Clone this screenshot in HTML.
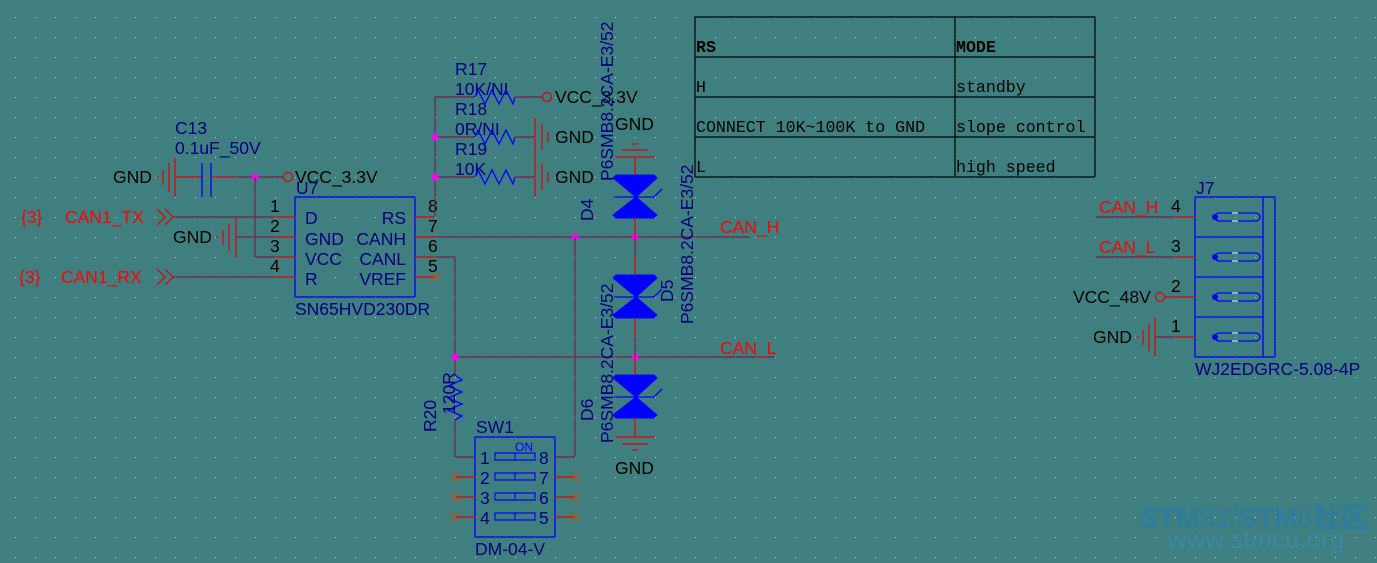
<!DOCTYPE html>
<html><head><meta charset="utf-8"><style>
html,body{margin:0;padding:0;background:#3f7f7f;}
svg{display:block}
text{font-family:"Liberation Sans",sans-serif;}
.mono{font-family:"Liberation Mono",monospace;font-size:16.6px;fill:#000}
.w{stroke:#7a1f4a;stroke-width:1.2;fill:none}
.p{stroke:#e00000;stroke-width:1.2;fill:none}
.b{stroke:#0000ff;stroke-width:1.3;fill:none}
.lbl{font-size:17.5px;fill:#000}
.dk{font-size:17.5px;fill:#000080}
.net{font-size:17.5px;fill:#ff0000}
.j{fill:#ff00ff}
.nc{stroke:#c05010;stroke-width:1.2}
</style></head><body>
<svg width="1377" height="563" viewBox="0 0 1377 563" xmlns="http://www.w3.org/2000/svg">
<defs>
<pattern id="g" x="15" y="17" width="20" height="20" patternUnits="userSpaceOnUse">
<rect x="0" y="0" width="1" height="1" fill="#b8d4d4"/>
</pattern>
</defs>
<rect width="1377" height="563" fill="#3f7f7f"/>
<rect width="1377" height="563" fill="url(#g)"/>

<!-- Table -->
<g stroke="#000" stroke-width="1.2" fill="none">
<rect x="695" y="17" width="400" height="160"/>
<line x1="695" y1="57" x2="1095" y2="57"/><line x1="695" y1="97" x2="1095" y2="97"/><line x1="695" y1="137" x2="1095" y2="137"/>
<line x1="955" y1="17" x2="955" y2="177"/>
</g>
<text class="mono" x="696" y="52" font-weight="bold">RS</text>
<text class="mono" x="956" y="52" font-weight="bold">MODE</text>
<text class="mono" x="696" y="92">H</text>
<text class="mono" x="956" y="92">standby</text>
<text class="mono" x="696" y="132">CONNECT 10K~100K to GND</text>
<text class="mono" x="956" y="132">slope control</text>
<text class="mono" x="696" y="172">L</text>
<text class="mono" x="956" y="172">high speed</text>

<!-- C13 -->
<text class="dk" x="175" y="134">C13</text>
<text class="dk" x="175" y="154">0.1uF_50V</text>
<text class="lbl" x="113" y="183">GND</text>
<line class="p" x1="157" y1="177" x2="159" y2="177"/>
<line class="p" x1="163" y1="170" x2="163" y2="185"/>
<line class="p" x1="169" y1="163" x2="169" y2="192"/>
<line class="p" x1="175" y1="157" x2="175" y2="197"/>
<line class="p" x1="175" y1="177" x2="202" y2="177"/>
<line class="b" x1="202" y1="163" x2="202" y2="197"/>
<line class="b" x1="211" y1="163" x2="211" y2="197"/>
<line class="p" x1="211" y1="177" x2="235" y2="177"/>
<line class="w" x1="235" y1="177" x2="283" y2="177"/>
<circle cx="288" cy="177" r="4.5" fill="none" stroke="#e00000" stroke-width="1.2"/>
<text class="lbl" x="295" y="183">VCC_3.3V</text>
<circle class="j" cx="255" cy="177" r="3.5"/>

<!-- U7 -->
<text class="dk" x="296" y="194">U7</text>
<rect x="295" y="197" width="120" height="100" fill="none" stroke="#0000ff" stroke-width="1.3"/>
<text class="dk" x="305" y="224">D</text>
<text class="dk" x="305" y="245">GND</text>
<text class="dk" x="305" y="265">VCC</text>
<text class="dk" x="305" y="285">R</text>
<text class="dk" x="406" y="224" text-anchor="end">RS</text>
<text class="dk" x="406" y="245" text-anchor="end">CANH</text>
<text class="dk" x="406" y="265" text-anchor="end">CANL</text>
<text class="dk" x="406" y="285" text-anchor="end">VREF</text>
<text class="dk" x="295" y="315">SN65HVD230DR</text>
<text class="lbl" x="270" y="212">1</text><text class="lbl" x="270" y="232">2</text><text class="lbl" x="270" y="252">3</text><text class="lbl" x="270" y="272">4</text>
<text class="lbl" x="428" y="212">8</text><text class="lbl" x="428" y="232">7</text><text class="lbl" x="428" y="252">6</text><text class="lbl" x="428" y="272">5</text>

<!-- left nets -->
<text class="net" x="21" y="223">{3}</text>
<text class="net" x="65" y="223">CAN1_TX</text>
<path class="p" d="M157 209 L165 217 L157 225 M165 209 L173 217 L165 225"/>
<line class="w" x1="173" y1="217" x2="275" y2="217"/><line class="p" x1="275" y1="217" x2="295" y2="217"/>
<text class="net" x="19" y="283">{3}</text>
<text class="net" x="61" y="283">CAN1_RX</text>
<path class="p" d="M157 269 L165 277 L157 285 M165 269 L173 277 L165 285"/>
<line class="w" x1="173" y1="277" x2="275" y2="277"/><line class="p" x1="275" y1="277" x2="295" y2="277"/>
<text class="lbl" x="173" y="243">GND</text>
<line class="p" x1="216" y1="237" x2="218" y2="237"/>
<line class="p" x1="223" y1="230" x2="223" y2="245"/>
<line class="p" x1="229" y1="224" x2="229" y2="251"/>
<line class="p" x1="236" y1="217" x2="236" y2="258"/>
<line class="w" x1="236" y1="237" x2="275" y2="237"/><line class="p" x1="275" y1="237" x2="295" y2="237"/>
<path class="w" d="M255 177 V257 H275"/><line class="p" x1="275" y1="257" x2="295" y2="257"/>

<!-- right pins -->
<line class="p" x1="415" y1="217" x2="435" y2="217"/>
<line class="p" x1="415" y1="237" x2="435" y2="237"/>
<line class="p" x1="415" y1="257" x2="435" y2="257"/>
<line class="p" x1="415" y1="277" x2="435" y2="277"/>
<path class="nc" d="M430 272 L440 282 M440 272 L430 282"/>
<path class="w" d="M435 217 V97 H475"/>
<line class="w" x1="435" y1="137" x2="475" y2="137"/>
<line class="w" x1="435" y1="177" x2="475" y2="177"/>
<circle class="j" cx="435" cy="137" r="3.5"/><circle class="j" cx="435" cy="177" r="3.5"/>

<!-- R17,R18,R19 -->
<text class="dk" x="455" y="75">R17</text><text class="dk" x="455" y="95">10K/NI</text>
<text class="dk" x="455" y="115">R18</text><text class="dk" x="455" y="135">0R/NI</text>
<text class="dk" x="455" y="155">R19</text><text class="dk" x="455" y="175">10K</text>
<path class="b" d="M475 97 L478 90 L485 104 L492 90 L499 104 L506 90 L513 104 L515 97"/>
<path class="b" d="M475 137 L478 130 L485 144 L492 130 L499 144 L506 130 L513 144 L515 137"/>
<path class="b" d="M475 177 L478 170 L485 184 L492 170 L499 184 L506 170 L513 184 L515 177"/>
<line class="w" x1="515" y1="97" x2="542" y2="97"/>
<circle cx="547" cy="97" r="4.5" fill="none" stroke="#e00000" stroke-width="1.2"/>
<text class="lbl" x="555" y="103">VCC_3.3V</text>
<line class="w" x1="515" y1="137" x2="535" y2="137"/>
<line class="p" x1="535" y1="117" x2="535" y2="157"/><line class="p" x1="542" y1="124" x2="542" y2="150"/><line class="p" x1="548" y1="132" x2="548" y2="142"/>
<text class="lbl" x="555" y="143">GND</text>
<line class="w" x1="515" y1="177" x2="535" y2="177"/>
<line class="p" x1="535" y1="157" x2="535" y2="197"/><line class="p" x1="542" y1="164" x2="542" y2="190"/><line class="p" x1="548" y1="172" x2="548" y2="182"/>
<text class="lbl" x="555" y="183">GND</text>

<!-- CANH / CANL wires -->
<line class="w" x1="435" y1="237" x2="750" y2="237"/>
<text class="net" x="720" y="233">CAN_H</text>
<path class="w" d="M435 257 H455 V375"/>
<line class="w" x1="455" y1="357" x2="775" y2="357"/>
<text class="net" x="720" y="354">CAN_L</text>
<circle class="j" cx="455" cy="357" r="3.5"/>
<circle class="j" cx="575" cy="237" r="3.5"/>
<circle class="j" cx="635" cy="237" r="3.5"/>
<circle class="j" cx="635" cy="357" r="3.5"/>
<path class="w" d="M575 237 V457 H555"/>

<!-- R20 -->
<path class="b" d="M455 375 L462 380 L448 386 L462 392 L448 398 L462 404 L448 410 L462 416 L455 420"/>
<path class="w" d="M455 420 V457 H475"/>
<text class="dk" transform="translate(436,432) rotate(-90)">R20</text>
<text class="dk" transform="translate(455,414) rotate(-90)">120R</text>

<!-- SW1 -->
<text class="dk" x="476" y="433">SW1</text>
<rect x="475" y="437" width="80" height="100" fill="none" stroke="#0000ff" stroke-width="1.3"/>
<text x="515" y="451" font-family="Liberation Serif,serif" font-size="12" fill="#0000ff">ON</text>
<g fill="none" stroke="#0000ff" stroke-width="1.2">
<rect x="495" y="453" width="40" height="7"/><line x1="515" y1="453" x2="515" y2="460"/>
<rect x="495" y="473" width="40" height="7"/><line x1="515" y1="473" x2="515" y2="480"/>
<rect x="495" y="493" width="40" height="7"/><line x1="515" y1="493" x2="515" y2="500"/>
<rect x="495" y="513" width="40" height="7"/><line x1="515" y1="513" x2="515" y2="520"/>
</g>
<text class="dk" x="480" y="464">1</text><text class="dk" x="480" y="484">2</text><text class="dk" x="480" y="504">3</text><text class="dk" x="480" y="524">4</text>
<text class="dk" x="539" y="464">8</text><text class="dk" x="539" y="484">7</text><text class="dk" x="539" y="504">6</text><text class="dk" x="539" y="524">5</text>
<text class="dk" x="475" y="555">DM-04-V</text>
<g class="p"><line x1="455" y1="477" x2="475" y2="477"/><line x1="455" y1="497" x2="475" y2="497"/><line x1="455" y1="517" x2="475" y2="517"/>
<line x1="555" y1="477" x2="575" y2="477"/><line x1="555" y1="497" x2="575" y2="497"/><line x1="555" y1="517" x2="575" y2="517"/></g>
<g class="nc"><path d="M450 472 L460 482 M460 472 L450 482 M450 492 L460 502 M460 492 L450 502 M450 512 L460 522 M460 512 L450 522"/>
<path d="M570 472 L580 482 M580 472 L570 482 M570 492 L580 502 M580 492 L570 502 M570 512 L580 522 M580 512 L570 522"/></g>

<!-- Diodes -->
<g fill="#0000ff" stroke="#0000ff" stroke-width="1" stroke-linejoin="round">
<path d="M616 175 H654 L657 178 L636 197 L613 178 Z M636 197 L657 215 L654 218 H616 L613 215 Z"/>
<path d="M616 275 H654 L657 278 L636 297 L613 278 Z M636 297 L657 315 L654 318 H616 L613 315 Z"/>
<path d="M616 375 H654 L657 378 L636 397 L613 378 Z M636 397 L657 415 L654 418 H616 L613 415 Z"/>
</g>
<g class="b"><path d="M614 197 H654 L662 189"/><path d="M614 297 H654 L662 289"/><path d="M614 397 H654 L662 389"/></g>
<g class="p">
<line x1="635" y1="157" x2="635" y2="175"/>
<line x1="615" y1="157" x2="655" y2="157"/><line x1="622" y1="150" x2="648" y2="150"/><line x1="632" y1="144" x2="638" y2="144"/>
<line x1="635" y1="218" x2="635" y2="237"/>
<line x1="635" y1="257" x2="635" y2="275"/>
<line x1="635" y1="318" x2="635" y2="337"/>
<line x1="635" y1="357" x2="635" y2="375"/>
<line x1="635" y1="418" x2="635" y2="437"/>
<line x1="615" y1="437" x2="655" y2="437"/><line x1="622" y1="444" x2="648" y2="444"/><line x1="632" y1="450" x2="638" y2="450"/>
</g>
<line class="w" x1="635" y1="237" x2="635" y2="257"/>
<line class="w" x1="635" y1="337" x2="635" y2="357"/>
<text class="lbl" x="615" y="130">GND</text>
<text class="lbl" x="615" y="474">GND</text>
<text class="dk" transform="translate(593,221) rotate(-90)">D4</text>
<text class="dk" transform="translate(613,181) rotate(-90)">P6SMB8.2CA-E3/52</text>
<text class="dk" transform="translate(673,302) rotate(-90)">D5</text>
<text class="dk" transform="translate(693,324) rotate(-90)">P6SMB8.2CA-E3/52</text>
<text class="dk" transform="translate(593,421) rotate(-90)">D6</text>
<text class="dk" transform="translate(613,443) rotate(-90)">P6SMB8.2CA-E3/52</text>

<!-- J7 -->
<text class="dk" x="1196" y="194">J7</text>
<rect x="1195" y="197" width="80" height="160" fill="none" stroke="#0000ff" stroke-width="1.3"/>
<g class="b"><line x1="1263" y1="197" x2="1263" y2="357"/>
<line x1="1195" y1="237" x2="1263" y2="237"/><line x1="1195" y1="277" x2="1263" y2="277"/><line x1="1195" y1="317" x2="1263" y2="317"/>
<rect x="1215" y="213" width="45" height="8" rx="4"/><rect x="1215" y="253" width="45" height="8" rx="4"/><rect x="1215" y="293" width="45" height="8" rx="4"/><rect x="1215" y="333" width="45" height="8" rx="4"/></g>
<g fill="#0000ff"><circle cx="1215" cy="217" r="3"/><circle cx="1215" cy="257" r="3"/><circle cx="1215" cy="297" r="3"/><circle cx="1215" cy="337" r="3"/></g>
<g stroke="#fff" stroke-width="1"><line x1="1232" y1="213" x2="1238" y2="213"/><line x1="1232" y1="221" x2="1238" y2="221"/><line x1="1232" y1="253" x2="1238" y2="253"/><line x1="1232" y1="261" x2="1238" y2="261"/><line x1="1232" y1="293" x2="1238" y2="293"/><line x1="1232" y1="301" x2="1238" y2="301"/><line x1="1232" y1="333" x2="1238" y2="333"/><line x1="1232" y1="341" x2="1238" y2="341"/></g>
<text class="dk" x="1195" y="375">WJ2EDGRC-5.08-4P</text>
<line class="w" x1="1095" y1="217" x2="1175" y2="217"/><line class="p" x1="1175" y1="217" x2="1195" y2="217"/>
<line class="w" x1="1095" y1="257" x2="1175" y2="257"/><line class="p" x1="1175" y1="257" x2="1195" y2="257"/>
<line class="p" x1="1165" y1="297" x2="1195" y2="297"/>
<line class="w" x1="1155" y1="337" x2="1175" y2="337"/><line class="p" x1="1175" y1="337" x2="1195" y2="337"/>
<text class="net" x="1099" y="213">CAN_H</text><text class="lbl" x="1171" y="212">4</text>
<text class="net" x="1099" y="253">CAN_L</text><text class="lbl" x="1171" y="252">3</text>
<circle cx="1160" cy="297" r="4.5" fill="none" stroke="#e00000" stroke-width="1.2"/>
<text class="lbl" x="1073" y="303">VCC_48V</text><text class="lbl" x="1171" y="292">2</text>
<text class="lbl" x="1093" y="343">GND</text><text class="lbl" x="1171" y="332">1</text>
<line class="p" x1="1137" y1="337" x2="1139" y2="337"/>
<line class="p" x1="1143" y1="330" x2="1143" y2="345"/><line class="p" x1="1149" y1="324" x2="1149" y2="351"/><line class="p" x1="1155" y1="317" x2="1155" y2="357"/>

<!-- watermark -->
<text x="1140" y="527" font-size="28" font-weight="bold" fill="#2a7ca0" font-family="Liberation Sans,'Noto Sans CJK SC',sans-serif">STM<tspan font-weight="normal">32/</tspan>STM<tspan font-weight="normal">8</tspan>社区</text>
<text x="1168" y="548" font-size="26" fill="#3a86a8">www.stmcu.org</text>
</svg>
</body></html>
